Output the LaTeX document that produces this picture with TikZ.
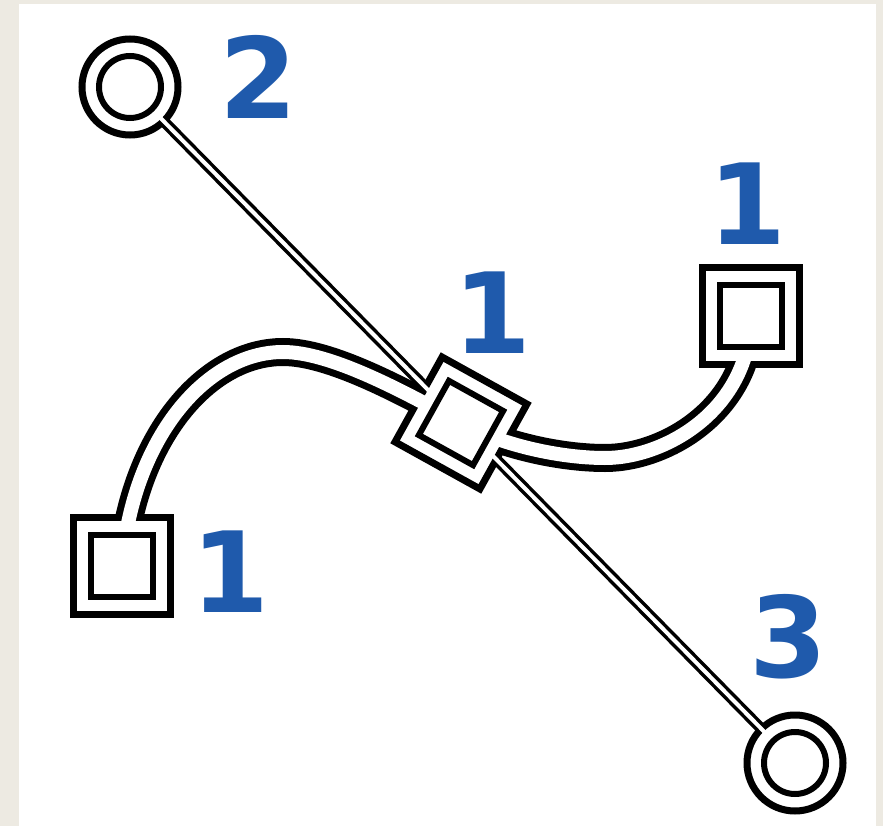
\documentclass[tikz,border=0pt]{standalone}
\usepackage{fontspec}
\newfontfamily\digitfont{DejaVu Sans}
\usetikzlibrary{positioning}
\pgfdeclarelayer{bg}
\pgfdeclarelayer{back}
\pgfsetlayers{bg,back,main}
\definecolor{paper}{RGB}{237,234,226}
\definecolor{numblue}{RGB}{31,90,172}

\begin{document}
\begin{tikzpicture}[x=1pt,y=-1pt,
  ringout/.style={circle,draw=black,line width=7pt,fill=white,minimum size=96pt,inner sep=0pt},
  ringin/.style={circle,draw=black,line width=6pt,fill=white,minimum size=62pt,inner sep=0pt},
  boxout/.style={rectangle,draw=black,line width=7pt,fill=white,minimum size=97pt,inner sep=0pt},
  boxin/.style={rectangle,draw=black,line width=6pt,fill=white,minimum size=62pt,inner sep=0pt},
  handleout/.style={line width=11pt,black},
  handlein/.style={line width=4pt,white},
  curveout/.style={line width=28pt,black},
  curvein/.style={line width=14pt,white},
  num/.style={text=numblue,inner sep=0pt,font=\digitfont\bfseries\fontsize{112}{112}\selectfont}]
\useasboundingbox (0,0) rectangle (883,826);
\begin{pgfonlayer}{bg}
\fill[paper] (0,0) rectangle (883,826);
\fill[white] (19,4) rectangle (876,826);
\end{pgfonlayer}
\node[ringout] (h2) at (130,87) {};
\node[ringout] (h3) at (795,763) {};
\node[boxout] (ls) at (122,566) {};
\node[boxout] (rs) at (751,316) {};
\node[boxout,rotate=-29] (cs) at (461,423) {};
\coordinate (top) at (283,352);
\coordinate (dip) at (605,458);
\begin{pgfonlayer}{back}
\draw[handleout] (h2.center) -- (h3.center);
\draw[curveout] (ls.center) .. controls (132,440) and (205,352) .. (top)
  .. controls (330,352) and (401,390) .. (cs.center)
  .. controls (501,445) and (560,458) .. (dip)
  .. controls (665,458) and (750,410) .. (rs.center);
\end{pgfonlayer}
\draw[handlein] (h2.center) -- (h3.center);
\draw[curvein] (ls.center) .. controls (132,440) and (205,352) .. (top)
  .. controls (330,352) and (401,390) .. (cs.center)
  .. controls (501,445) and (560,458) .. (dip)
  .. controls (665,458) and (750,410) .. (rs.center);
\node[ringin] (h2in) at (h2) {};
\node[ringin] (h3in) at (h3) {};
\node[boxin] (lsin) at (ls) {};
\node[boxin] (rsin) at (rs) {};
\node[boxin,rotate=-29] (csin) at (cs) {};
\node[num] (n2) at (258,77) {2};
\node[num] (n1c) at (492,313) {1};
\node[num] (n1r) at (747,204) {1};
\node[num] (n1l) at (230,572) {1};
\node[num] (n3) at (788,637) {3};
\end{tikzpicture}
\end{document}
